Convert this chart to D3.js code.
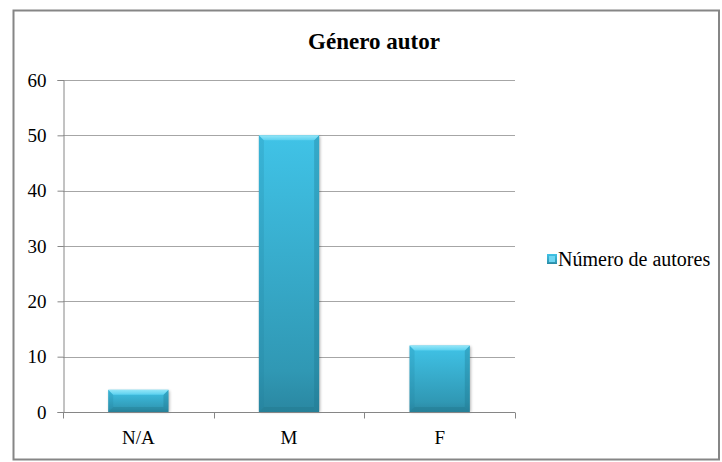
<!DOCTYPE html>
<html>
<head>
<meta charset="utf-8">
<script src="https://cdn.jsdelivr.net/npm/d3@7"></script>
</head>
<body style="margin:0">
<svg id="s" width="722" height="462"></svg>
<script>
const title = "Género autor";
const seriesName = "Número de autores";
const categories = ["N/A", "M", "F"];
const values = [4, 50, 12];
const yTicks = [0, 10, 20, 30, 40, 50, 60];

const FONT = "Liberation Serif";
const svg = d3.select("#s");
svg.attr("font-family", FONT);
const W = 722, H = 462;
const margin = { left: 63, right: 207, top: 80, bottom: 50 };
const plotW = W - margin.left - margin.right;
const plotH = H - margin.top - margin.bottom;

function serif(sel) {
  sel.attr("font-family", FONT);
  return sel;
}

// outer border
svg.append("rect")
  .attr("x", 13.5).attr("y", 10.5)
  .attr("width", W - 13.5 - 3).attr("height", H - 10.5 - 2.5)
  .attr("fill", "#fff").attr("stroke", "#868686").attr("stroke-width", 2);

const defs = svg.append("defs");
const body = defs.append("linearGradient").attr("id", "barBody")
  .attr("x1", 0).attr("y1", 0).attr("x2", 0).attr("y2", 1);
body.append("stop").attr("offset", "0%").attr("stop-color", "#40c3e7");
body.append("stop").attr("offset", "85%").attr("stop-color", "#3098b4");
body.append("stop").attr("offset", "100%").attr("stop-color", "#2a87a1");
const topG = defs.append("linearGradient").attr("id", "barTop")
  .attr("x1", 0).attr("y1", 0).attr("x2", 0).attr("y2", 1);
topG.append("stop").attr("offset", "0%").attr("stop-color", "#93e6f8");
topG.append("stop").attr("offset", "100%").attr("stop-color", "#5ad0ef");
const blur = defs.append("filter").attr("id", "shadow")
  .attr("x", "-20%").attr("y", "-20%").attr("width", "140%").attr("height", "140%");
blur.append("feGaussianBlur").attr("stdDeviation", 1.5);

const g = svg.append("g").attr("transform", `translate(${margin.left},${margin.top})`);

const x = d3.scaleBand().domain(categories).range([0, plotW])
  .paddingInner(0.6).paddingOuter(0.3);
const y = d3.scaleLinear().domain([0, 60]).range([plotH, 0]);

// gridlines
g.append("g").selectAll("line").data(yTicks.slice(1)).join("line")
  .attr("x1", 0).attr("x2", plotW)
  .attr("y1", d => Math.round(y(d)) + 0.5).attr("y2", d => Math.round(y(d)) + 0.5)
  .attr("stroke", "#a6a6a6").attr("stroke-width", 1);

// y axis
const yAxis = g.append("g").attr("transform", "translate(0.5,0)")
  .call(d3.axisLeft(y).tickValues(yTicks).tickSize(6).tickPadding(11));
serif(yAxis).attr("font-size", 19);
yAxis.select(".domain").attr("stroke", "#868686");
yAxis.selectAll(".tick line").attr("stroke", "#868686");
serif(yAxis.selectAll(".tick text")).attr("font-size", 19).attr("fill", "#000");

// bars
const bev = 5;
const bars = g.append("g").selectAll("g").data(categories).join("g")
  .attr("transform", d => `translate(${x(d)},0)`);
bars.append("rect")
  .attr("x", 1).attr("y", (d, i) => y(values[i]) + 1)
  .attr("width", x.bandwidth()).attr("height", (d, i) => plotH - y(values[i]) - 1)
  .attr("fill", "#000").attr("opacity", 0.3).attr("filter", "url(#shadow)");
bars.append("rect")
  .attr("x", 0).attr("y", (d, i) => y(values[i]))
  .attr("width", x.bandwidth()).attr("height", (d, i) => plotH - y(values[i]))
  .attr("fill", "url(#barBody)");
bars.append("path")
  .attr("d", (d, i) => {
    const t = y(values[i]), b = plotH;
    return `M0,${t}L${bev},${t + bev}L${bev},${b - bev}L0,${b}Z`;
  })
  .attr("fill", "#1f7f99").attr("opacity", 0.2);
bars.append("path")
  .attr("d", (d, i) => {
    const t = y(values[i]), b = plotH, w = x.bandwidth();
    return `M${w},${t}L${w - bev},${t + bev}L${w - bev},${b - bev}L${w},${b}Z`;
  })
  .attr("fill", "#1a6f87").attr("opacity", 0.3);
bars.append("path")
  .attr("d", (d, i) => {
    const b = plotH, w = x.bandwidth();
    return `M0,${b}L${bev},${b - bev}L${w - bev},${b - bev}L${w},${b}Z`;
  })
  .attr("fill", "#1d6f86").attr("opacity", 0.3);
bars.append("path")
  .attr("d", (d, i) => {
    const t = y(values[i]), w = x.bandwidth();
    return `M0,${t}L${w},${t}L${w - bev},${t + bev}L${bev},${t + bev}Z`;
  })
  .attr("fill", "url(#barTop)");

// x axis
const xAxis = g.append("g").attr("transform", `translate(0,${Math.round(plotH) + 0.5})`);
xAxis.append("line").attr("x1", 0).attr("x2", plotW).attr("stroke", "#868686");
const step = x.step();
const boundaries = d3.range(categories.length + 1).map(i => x(categories[0]) - x.paddingOuter() * step + i * step);
xAxis.selectAll("line.tk").data(boundaries).join("line").attr("class", "tk")
  .attr("x1", d => Math.round(d) + 0.5).attr("x2", d => Math.round(d) + 0.5)
  .attr("y1", 0).attr("y2", 6).attr("stroke", "#868686");
serif(xAxis.selectAll("text").data(categories).join("text")
  .attr("x", d => x(d) + x.bandwidth() / 2).attr("y", 31)
  .attr("text-anchor", "middle").attr("font-size", 19).text(d => d));

// title
serif(svg.append("text").attr("x", 374).attr("y", 49).attr("text-anchor", "middle")
  .attr("font-size", 23).attr("font-weight", "bold").text(title));

// legend
const lg = svg.append("g").attr("transform", "translate(547,254)");
lg.append("rect").attr("width", 10).attr("height", 10).attr("fill", "url(#barBody)");
lg.append("rect").attr("x", 2).attr("y", 2).attr("width", 6).attr("height", 6).attr("fill", "#6fd6f2");
serif(lg.append("text").attr("x", 11).attr("y", 12).attr("font-size", 20).text(seriesName));
</script>
</body>
</html>
